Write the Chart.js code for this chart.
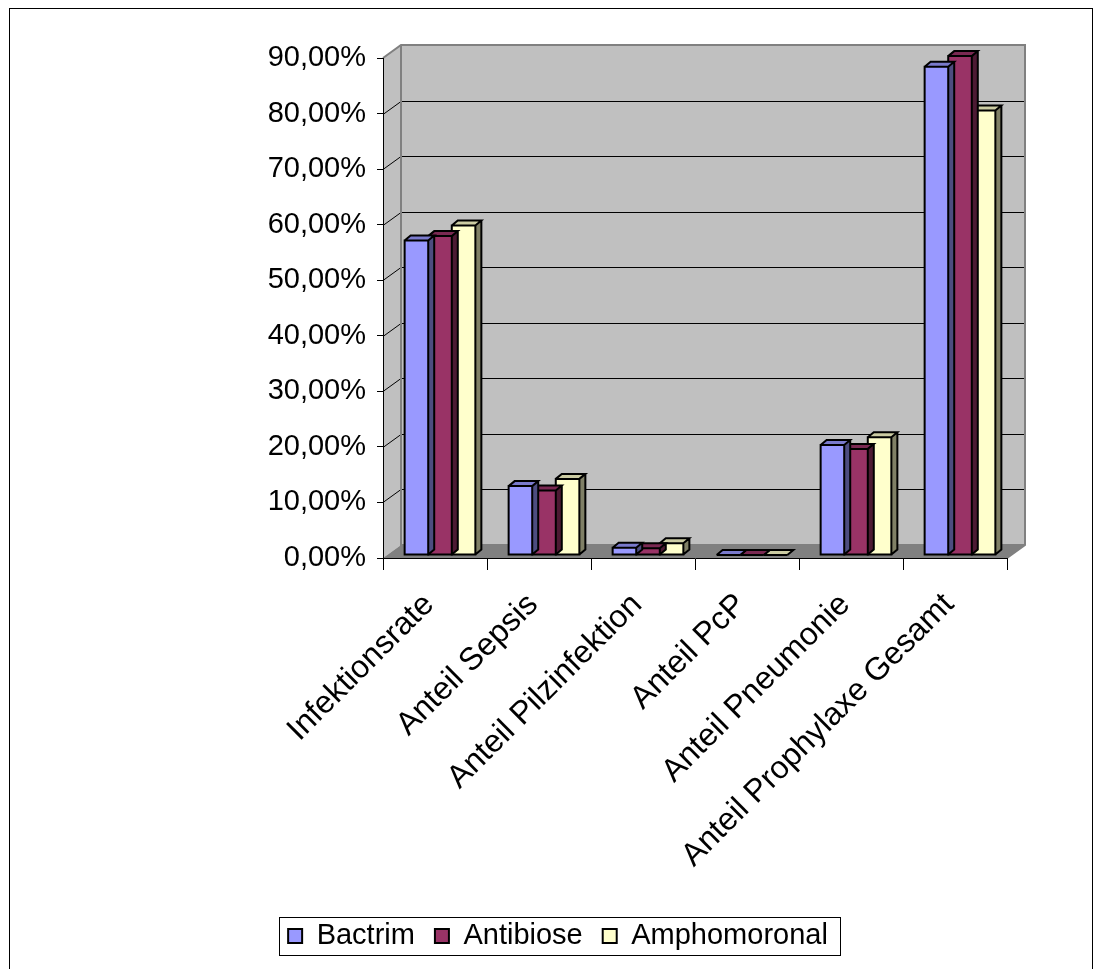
<!DOCTYPE html>
<html>
<head>
<meta charset="utf-8">
<script src="https://cdn.jsdelivr.net/npm/chart.js@4/dist/chart.umd.min.js"></script>
<style>
  html, body { margin: 0; padding: 0; background: #ffffff; }
  canvas { display: block; }
</style>
</head>
<body>
<canvas id="chart" width="1102" height="969"></canvas>
<script>
// Categories and series (values in percent)
const categories = ['Infektionsrate', 'Anteil Sepsis', 'Anteil Pilzinfektion', 'Anteil PcP', 'Anteil Pneumonie', 'Anteil Prophylaxe Gesamt'];
const seriesNames = ['Bactrim', 'Antibiose', 'Amphomoronal'];
const bactrim = [56.6, 12.4, 1.3, 0, 19.8, 87.9];
const antibiose = [57.4, 11.6, 1.2, 0, 19.1, 89.8];
const amphomoronal = [59.3, 13.7, 2.1, 0, 21.2, 80.0];
const yMin = 0, yMax = 90, yStep = 10;

const colors = ['#9999FF', '#993366', '#FFFFCC'];
const FONT = { family: '"Liberation Sans", Arial, sans-serif', size: 29 };
const XFONT = { family: '"Liberation Sans", Arial, sans-serif', size: 32 };

// depth of the walls and of the columns
const WALL_DX = 18, WALL_DY = -13;
const BAR_SHIFT_X = 5, BAR_SHIFT_Y = -3;
const BAR_DX = 6, BAR_DY = -5;

function shade(hex, f) {
  const n = parseInt(hex.slice(1), 16);
  const r = Math.round(((n >> 16) & 255) * f);
  const g = Math.round(((n >> 8) & 255) * f);
  const b = Math.round((n & 255) * f);
  return `rgb(${r},${g},${b})`;
}

const wallPlugin = {
  id: 'walls',
  beforeDraw(chart) {
    const { ctx, chartArea: a, scales: { y } } = chart;
    ctx.save();
    ctx.fillStyle = '#ffffff';
    ctx.fillRect(0, 0, chart.width, chart.height);
    const L = a.left, R = a.right, T = a.top, B = a.bottom;
    const dx = WALL_DX, dy = WALL_DY;
    // back wall
    ctx.fillStyle = '#C0C0C0';
    ctx.fillRect(L + dx, T + dy, R - L, B - T);
    // side wall
    ctx.beginPath();
    ctx.moveTo(L, T); ctx.lineTo(L + dx, T + dy); ctx.lineTo(L + dx, B + dy); ctx.lineTo(L, B);
    ctx.closePath(); ctx.fill();
    // floor
    ctx.fillStyle = '#808080';
    ctx.beginPath();
    ctx.moveTo(L, B); ctx.lineTo(L + dx, B + dy); ctx.lineTo(R + dx, B + dy); ctx.lineTo(R, B);
    ctx.closePath(); ctx.fill();
    // gridlines on the back wall and the side wall
    ctx.strokeStyle = '#000000';
    ctx.lineWidth = 1;
    y.ticks.forEach(t => {
      if (t.value <= yMin || t.value >= yMax) return;
      const py = Math.round(y.getPixelForValue(t.value)) + 0.5;
      ctx.beginPath();
      ctx.moveTo(L, py); ctx.lineTo(L + dx, py + dy);
      ctx.lineTo(R + dx, py + dy);
      ctx.stroke();
    });
    // wall edges
    ctx.strokeStyle = '#808080';
    ctx.lineWidth = 2;
    ctx.beginPath();
    ctx.moveTo(L, T); ctx.lineTo(L + dx, T + dy); ctx.lineTo(R + dx, T + dy);
    ctx.lineTo(R + dx, B + dy); ctx.lineTo(R, B);
    ctx.moveTo(L + dx, T + dy); ctx.lineTo(L + dx, B + dy); ctx.lineTo(R + dx, B + dy);
    ctx.stroke();
    ctx.restore();
  },
  beforeDatasetsDraw(chart) {
    chart.ctx.save();
    chart.ctx.translate(BAR_SHIFT_X, BAR_SHIFT_Y);
  },
  afterDatasetDraw(chart, args) {
    const ctx = chart.ctx;
    const base = colors[args.index];
    ctx.save();
    ctx.lineJoin = 'miter';
    args.meta.data.forEach(el => {
      const { x, y, base: b, width } = el.getProps(['x', 'y', 'base', 'width'], true);
      const l = x - width / 2, r = x + width / 2;
      const top = Math.min(y, b), bot = Math.max(y, b);
      // side face
      ctx.fillStyle = shade(base, 0.5);
      ctx.beginPath();
      ctx.moveTo(r, top); ctx.lineTo(r + BAR_DX, top + BAR_DY);
      ctx.lineTo(r + BAR_DX, bot + BAR_DY); ctx.lineTo(r, bot); ctx.closePath();
      ctx.fill();
      // top face
      ctx.fillStyle = shade(base, 0.8);
      ctx.beginPath();
      ctx.moveTo(l, top); ctx.lineTo(l + BAR_DX, top + BAR_DY);
      ctx.lineTo(r + BAR_DX, top + BAR_DY); ctx.lineTo(r, top); ctx.closePath();
      ctx.fill();
      // outlines
      ctx.strokeStyle = '#000000';
      ctx.lineWidth = 2;
      ctx.beginPath();
      ctx.rect(l, top, r - l, bot - top);
      ctx.moveTo(l, top); ctx.lineTo(l + BAR_DX, top + BAR_DY);
      ctx.lineTo(r + BAR_DX, top + BAR_DY); ctx.lineTo(r, top);
      ctx.moveTo(r + BAR_DX, top + BAR_DY); ctx.lineTo(r + BAR_DX, bot + BAR_DY); ctx.lineTo(r, bot);
      ctx.stroke();
    });
    ctx.restore();
  },
  afterDatasetsDraw(chart) {
    chart.ctx.restore();
  },
  afterDraw(chart) {
    const ctx = chart.ctx;
    ctx.save();
    ctx.strokeStyle = '#000000';
    ctx.lineWidth = 1;
    // outer frame
    ctx.strokeRect(9.5, 8.5, 1083, 1100);
    // legend frame
    const hb = chart.legend.legendHitBoxes;
    if (hb && hb.length) {
      const first = hb[0], last = hb[hb.length - 1];
      const cy = first.top + first.height / 2;
      const x0 = Math.round(first.left - 9) + 0.5;
      const x1 = Math.round(last.left + last.width + 12) + 0.5;
      const y0 = Math.round(cy - 19) + 0.5;
      ctx.strokeRect(x0, y0, x1 - x0, 38);
    }
    ctx.restore();
  }
};

const datasets = [bactrim, antibiose, amphomoronal].map((vals, i) => ({
  label: seriesNames[i],
  data: vals,
  backgroundColor: colors[i],
  borderWidth: 0,
  categoryPercentage: 0.68,
  barPercentage: 1.0,
  clip: false
}));

new Chart(document.getElementById('chart'), {
  type: 'bar',
  data: { labels: categories, datasets },
  plugins: [wallPlugin],
  options: {
    responsive: false,
    animation: false,
    events: [],
    layout: { padding: { top: 58, right: 95, left: 109, bottom: 8.5 } },
    plugins: {
      tooltip: { enabled: false },
      legend: {
        position: 'bottom',
        labels: {
          font: FONT,
          color: '#000000',
          boxWidth: 14,
          boxHeight: 14,
          padding: 20,
          generateLabels(chart) {
            const items = Chart.defaults.plugins.legend.labels.generateLabels(chart);
            items.forEach(it => { it.strokeStyle = '#000000'; it.lineWidth = 2; });
            return items;
          }
        }
      }
    },
    scales: {
      x: {
        grid: { display: true, drawOnChartArea: false, drawTicks: true, tickLength: 12, color: '#000000', offset: true },
        border: { display: true, color: '#000000', width: 1 },
        ticks: { font: XFONT, color: '#000000', minRotation: 45, maxRotation: 45, autoSkip: false, padding: 16, labelOffset: -6 },
        afterFit(s) { s.height = 343.5; }
      },
      y: {
        min: yMin,
        max: yMax,
        grid: { display: true, drawOnChartArea: false, drawTicks: true, tickLength: 6, color: '#000000' },
        border: { display: true, color: '#000000', width: 1 },
        ticks: {
          stepSize: yStep,
          font: FONT,
          color: '#000000',
          padding: 11,
          callback: v => v.toFixed(2).replace('.', ',') + '%'
        },
        afterFit(s) { s.width = 274; }
      }
    }
  }
});
</script>
</body>
</html>
